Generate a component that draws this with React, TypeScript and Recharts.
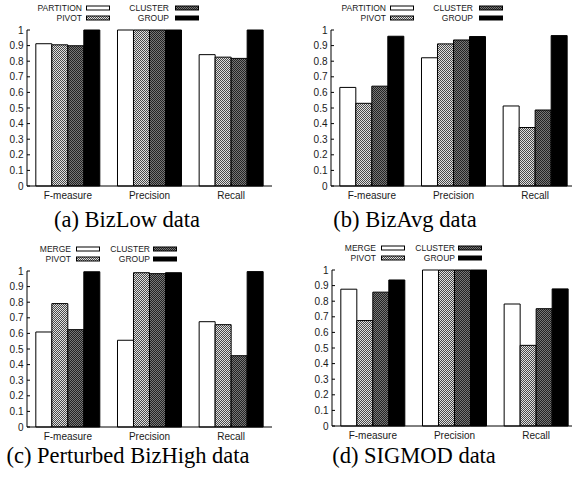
import React from 'react';
import { BarChart, Bar, XAxis, YAxis } from 'recharts';

const categories = ['F-measure', 'Precision', 'Recall'];
const yTicks = [0, 0.1, 0.2, 0.3, 0.4, 0.5, 0.6, 0.7, 0.8, 0.9, 1];

const namesTop = ['PARTITION', 'PIVOT', 'CLUSTER', 'GROUP'];
const namesBottom = ['MERGE', 'PIVOT', 'CLUSTER', 'GROUP'];

// (a) BizLow
const bizLowFirst = [0.912, 1.0, 0.842];
const bizLowPivot = [0.905, 1.0, 0.826];
const bizLowCluster = [0.899, 1.0, 0.818];
const bizLowGroup = [1.0, 1.0, 1.0];

// (b) BizAvg
const bizAvgFirst = [0.632, 0.822, 0.513];
const bizAvgPivot = [0.53, 0.911, 0.375];
const bizAvgCluster = [0.64, 0.936, 0.487];
const bizAvgGroup = [0.96, 0.958, 0.964];

// (c) Perturbed BizHigh
const bizHighFirst = [0.609, 0.556, 0.675];
const bizHighPivot = [0.791, 0.989, 0.656];
const bizHighCluster = [0.624, 0.983, 0.457];
const bizHighGroup = [0.995, 0.989, 0.996];

// (d) SIGMOD
const sigmodFirst = [0.877, 1.0, 0.782];
const sigmodPivot = [0.676, 1.0, 0.517];
const sigmodCluster = [0.858, 1.0, 0.752];
const sigmodGroup = [0.936, 1.0, 0.879];

const captions = ['(a) BizLow data', '(b) BizAvg data', '(c) Perturbed BizHigh data', '(d) SIGMOD data'];

const fills = ['#ffffff', 'url(#pivotPat)', 'url(#clusterPat)', '#000000'];
const keys = ['s0', 's1', 's2', 's3'];

function buildRows(series: number[][]) {
  return categories.map((c, i) => ({
    cat: c,
    s0: series[0][i],
    s1: series[1][i],
    s2: series[2][i],
    s3: series[3][i],
  }));
}

const SANS = '"Liberation Sans", Arial, Helvetica, sans-serif';
const SERIF = '"Liberation Serif", "Times New Roman", Times, serif';

type PanelProps = {
  left: number;
  top: number;
  names: string[];
  series: number[][];
  legendCols: { textEnd: number; swatch: number }[];
};

function Panel({ left, top, names, series, legendCols }: PanelProps) {
  const data = buildRows(series);
  const rowsY = [8, 18];
  const order = [
    { idx: 0, col: 0, row: 0 },
    { idx: 1, col: 0, row: 1 },
    { idx: 2, col: 1, row: 0 },
    { idx: 3, col: 1, row: 1 },
  ];
  const tickStyle = { fontSize: 10, fill: '#1a1a1a', style: { fontFamily: SANS } } as any;
  return (
    <div style={{ position: 'absolute', left, top, width: 286, height: 206 }}>
      <BarChart
        width={286}
        height={206}
        data={data}
        margin={{ top: 30, right: 14, bottom: 0, left: 0 }}
        barCategoryGap="10.8%"
        barGap={0}
        style={{ fontFamily: SANS }}
      >
        <XAxis
          xAxisId="bottom"
          dataKey="cat"
          height={20}
          tickSize={-3}
          tickMargin={8.7}
          axisLine={{ stroke: '#000', strokeWidth: 1 }}
          tickLine={{ stroke: '#000' }}
          tick={tickStyle}
          interval={0}
        />
        <XAxis
          xAxisId="top"
          orientation="top"
          dataKey="cat"
          height={0}
          tickSize={-3}
          axisLine={{ stroke: '#000', strokeWidth: 1 }}
          tickLine={{ stroke: '#000' }}
          tickFormatter={() => ''}
          interval={0}
        />
        <YAxis
          yAxisId="left"
          width={27}
          domain={[0, 1]}
          ticks={yTicks}
          interval={0}
          tickSize={-3}
          tickMargin={6.5}
          axisLine={{ stroke: '#000', strokeWidth: 1 }}
          tickLine={{ stroke: '#000' }}
          tick={tickStyle}
          tickFormatter={(v: number) => String(v)}
        />
        <YAxis
          yAxisId="right"
          orientation="right"
          width={0}
          domain={[0, 1]}
          ticks={yTicks}
          interval={0}
          tickSize={-3}
          axisLine={{ stroke: '#000', strokeWidth: 1 }}
          tickLine={{ stroke: '#000' }}
          tickFormatter={() => ''}
        />
        {keys.map((k, i) => (
          <Bar
            key={k}
            dataKey={k}
            name={names[i]}
            xAxisId="bottom"
            yAxisId="left"
            fill={fills[i]}
            stroke="#000"
            strokeWidth={1}
            isAnimationActive={false}
          />
        ))}
      </BarChart>
      <svg
        width={286}
        height={28}
        style={{ position: 'absolute', left: 0, top: 0, overflow: 'visible' }}
      >
        {order.map(({ idx, col, row }) => {
          const c = legendCols[col];
          const cy = rowsY[row];
          return (
            <g key={idx}>
              <text
                x={c.textEnd}
                y={cy + 3}
                textAnchor="end"
                fontSize={8.5}
                style={{ fontFamily: SANS }}
                fill="#1a1a1a"
              >
                {names[idx]}
              </text>
              <rect
                x={c.swatch + 0.5}
                y={cy - 2}
                width={23}
                height={4}
                fill={fills[idx]}
                stroke="#000"
                strokeWidth={1}
              />
            </g>
          );
        })}
      </svg>
    </div>
  );
}

const legendTop = [
  { textEnd: 82, swatch: 86 },
  { textEnd: 169, swatch: 175 },
];
const legendBottom = [
  { textEnd: 71, swatch: 76 },
  { textEnd: 150, swatch: 153 },
];

const capStyle = { fontFamily: SERIF };

export default function App() {
  return (
    <div
      style={{
        position: 'absolute',
        left: 0,
        top: 0,
        width: 572,
        height: 481,
        overflow: 'hidden',
        background: '#fff',
      }}
    >
      <svg width={0} height={0} style={{ position: 'absolute' }}>
        <defs>
          <pattern id="pivotPat" patternUnits="userSpaceOnUse" width={2} height={2}>
            <rect x={0} y={0} width={2} height={2} fill="#e0e0e0" />
            <rect x={0} y={0} width={1} height={1} fill="#4a4a4a" />
            <rect x={1} y={1} width={1} height={1} fill="#4a4a4a" />
          </pattern>
          <pattern id="clusterPat" patternUnits="userSpaceOnUse" width={2} height={2}>
            <rect x={0} y={0} width={2} height={2} fill="#777" />
            <rect x={0} y={0} width={1} height={1} fill="#222" />
            <rect x={1} y={1} width={1} height={1} fill="#222" />
          </pattern>
        </defs>
      </svg>
      <Panel
        left={0}
        top={0}
        names={namesTop}
        series={[bizLowFirst, bizLowPivot, bizLowCluster, bizLowGroup]}
        legendCols={legendTop}
      />
      <Panel
        left={304}
        top={0}
        names={namesTop}
        series={[bizAvgFirst, bizAvgPivot, bizAvgCluster, bizAvgGroup]}
        legendCols={legendTop}
      />
      <Panel
        left={0}
        top={241}
        names={namesBottom}
        series={[bizHighFirst, bizHighPivot, bizHighCluster, bizHighGroup]}
        legendCols={legendBottom}
      />
      <Panel
        left={305}
        top={240}
        names={namesBottom}
        series={[sigmodFirst, sigmodPivot, sigmodCluster, sigmodGroup]}
        legendCols={legendBottom}
      />
      <svg width={572} height={481} style={{ position: 'absolute', left: 0, top: 0, pointerEvents: 'none' }}>
        <text x={127} y={226.5} textAnchor="middle" fontSize={22.5} style={capStyle} fill="#000">
          {captions[0]}
        </text>
        <text x={405} y={226.5} textAnchor="middle" fontSize={22.5} style={capStyle} fill="#000">
          {captions[1]}
        </text>
        <text x={128} y={462.5} textAnchor="middle" fontSize={22.5} style={capStyle} fill="#000">
          {captions[2]}
        </text>
        <text x={414} y={462.5} textAnchor="middle" fontSize={22.5} style={capStyle} fill="#000">
          {captions[3]}
        </text>
      </svg>
    </div>
  );
}
